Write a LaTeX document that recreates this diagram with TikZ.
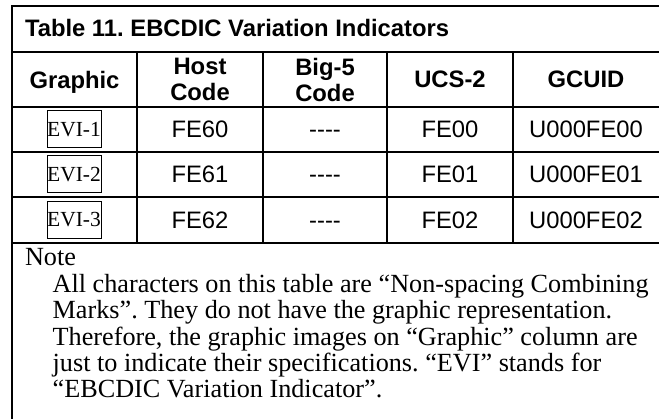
\documentclass[tikz,border=0pt]{standalone}
\usepackage{fontspec}
\setmainfont{Liberation Serif}
\newfontfamily\tabfont{Liberation Sans}

\begin{document}
\frenchspacing
\begin{tikzpicture}[x=1pt, y=-1pt, line width=2pt,
    cell/.style={anchor=center, inner sep=0pt, text height=17pt, text depth=0pt, font=\tabfont\fontsize{23.8}{26}\selectfont},
    head/.style={anchor=center, inner sep=0pt, text depth=0pt, align=center, font=\tabfont\bfseries\fontsize{23.8}{26}\selectfont},
    evibox/.style={draw, line width=1pt, inner sep=0pt, minimum width=54pt, minimum height=37pt, font=\fontsize{21.5}{22}\selectfont},
    notetext/.style={anchor=base west, inner sep=0pt, font=\fontsize{26.2}{26.3}\selectfont}]
    \useasboundingbox (0,0) rectangle (659,419);

    % Lines.
    \draw (659,6) -- (12,6) -- (12,419);
    \foreach \y in {52,107,152,197,243}
    {
        \draw (12,\y) -- (659,\y);
    }
    \foreach \x in {137,263,387,513}
    {
        \draw (\x,52) -- (\x,243);
    }

    % Title and header.
    \node[anchor=base west, inner sep=0pt, font=\tabfont\bfseries\fontsize{23.8}{26}\selectfont] (title) at (24,37) {Table 11. EBCDIC Variation Indicators};
    \node[head] (hgraphic) at (74.5,79.5) {Graphic};
    \node[head] (hhost) at (200,79.5) {Host\\Code};
    \node[head] (hbigfive) at (325,79.5) {Big-5\\Code};
    \node[head] (hucs) at (450,79.5) {UCS-2};
    \node[head] (hgcuid) at (586,79.5) {GCUID};

    % Rows.
    \foreach \y/\i/\host/\ucs in {129.5/1/FE60/FE00, 174.5/2/FE61/FE01, 220/3/FE62/FE02}
    {
        \node[evibox] (evi\i) at (74,\y) {EVI-\i};
        \node[cell] (host\i) at (200,\y) {\host};
        \node[cell] (bigfive\i) at (325,\y) {----};
        \node[cell] (ucs\i) at (450,\y) {\ucs};
        \node[cell] (gcuid\i) at (586,\y) {U000\ucs};
    }

    % Note.
    \node[notetext] (note) at (24,266) {Note};
    \foreach \txt [count=\k] in {{All characters on this table are “Non-spacing Combining},
        {Marks”. They do not have the graphic representation.},
        {Therefore, the graphic images on “Graphic” column are},
        {just to indicate their specifications. “EVI” stands for},
        {“EBCDIC Variation Indicator”.}}
    {
        \node[notetext] (line\k) at (51.7,266.4+26.3*\k) {\txt};
    }
\end{tikzpicture}
\end{document}
